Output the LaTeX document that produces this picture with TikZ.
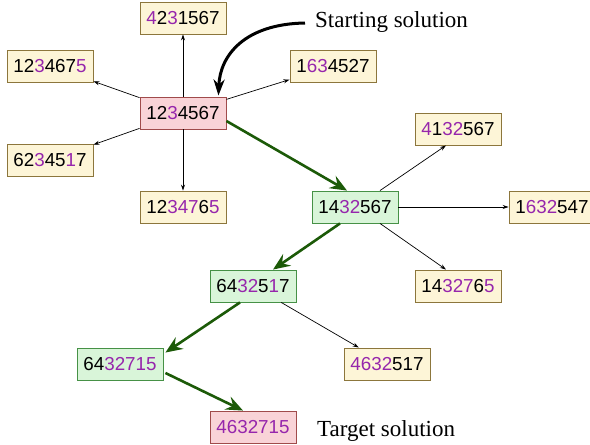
\documentclass[tikz,border=0pt]{standalone}
\usepackage{fontspec}
\setmainfont{Liberation Serif}
\newfontfamily\digitfont{Liberation Sans}
\usetikzlibrary{arrows.meta,calc}
\definecolor{purp}{RGB}{150,38,172}
\definecolor{yfill}{RGB}{253,245,215}
\definecolor{ydraw}{RGB}{140,118,60}
\definecolor{pfill}{RGB}{249,211,215}
\definecolor{pdraw}{RGB}{160,75,75}
\definecolor{gfill}{RGB}{217,245,217}
\definecolor{gdraw}{RGB}{70,145,70}
\definecolor{garrow}{RGB}{28,90,8}
\newcommand{\pu}[1]{\textcolor{purp}{#1}}
\tikzset{
  sol/.style={draw, line width=0.9pt, minimum width=86pt, minimum height=32pt, inner sep=0pt,
    font=\digitfont\fontsize{18.8}{20}\selectfont},
  ysol/.style={sol, fill=yfill, draw=ydraw},
  psol/.style={sol, fill=pfill, draw=pdraw},
  gsol/.style={sol, fill=gfill, draw=gdraw},
  thin/.style={-{Stealth[length=6pt,width=4pt]}, line width=0.7pt},
  path/.style={-{Stealth[length=17pt,width=14pt,inset=6pt]}, line width=2.6pt, draw=garrow},
  lbl/.style={inner sep=0pt, anchor=west, font=\fontsize{23}{25}\selectfont}
}
\begin{document}
\begin{tikzpicture}[x=1pt,y=-1pt]
\useasboundingbox (0,0) rectangle (590,445);
\node[psol] (s) at (183,113) {12\pu{3}4567};
\node[ysol] (a) at (183,18) {\pu{4}2\pu{3}1567};
\node[ysol] (b) at (50,66) {12\pu{3}467\pu{5}};
\node[ysol] (c) at (333,66) {1\pu{63}4527};
\node[ysol] (d) at (50,160) {62\pu{3}45\pu{1}7};
\node[ysol] (e) at (183,207) {12\pu{347}6\pu{5}};
\node[gsol] (g1) at (355,207) {14\pu{32}567};
\node[ysol] (f) at (458,129) {\pu{4}1\pu{32}567};
\node[ysol] (h) at (552,207) {1\pu{632}547};
\node[ysol] (i) at (458,286) {14\pu{327}6\pu{5}};
\node[gsol] (g2) at (253,286) {64\pu{32}5\pu{1}7};
\node[ysol] (j) at (387,364) {\pu{4632}517};
\node[gsol] (g3) at (120,364) {64\pu{32715}};
\node[psol] (t) at (253,427) {\pu{4632715}};
\node[lbl] (sl) at (315,22) {Starting solution};
\node[lbl] (tl) at (317,431) {Target solution};
\coordinate (cs) at ($(sl.west)+(-10,1)$);
\coordinate (ce) at ($(s.north east)+(-8,-1)$);
\draw[thin] (s) -- (a);
\draw[thin] (s) -- (b);
\draw[thin] (s) -- (c);
\draw[thin] (s) -- (d);
\draw[thin] (s) -- (e);
\draw[thin] ($(g1.north)+(25,0)$) -- ($(f.south)+(-12,0)$);
\draw[thin] (g1) -- (h);
\draw[thin] ($(g1.south)+(25,0)$) -- ($(i.north)+(-12,0)$);
\draw[thin] (g2) -- (j);
\draw[path] ($(s.east)+(0,8)$) -- ($(g1.north)+(-8,0)$);
\draw[path] ($(g1.south)+(-15,0)$) -- ($(g2.north)+(20,0)$);
\draw[path] ($(g2.south)+(-13,0)$) -- ($(g3.north east)+(2,5)$);
\draw[path] ($(g3.east)+(2,9)$) -- ($(t.north)+(-10,0)$);
\draw[line width=3pt, -{Stealth[length=16pt,width=11pt,inset=5pt]}] (cs) .. controls (245,24) and (220,55) .. (ce);
\end{tikzpicture}
\end{document}
